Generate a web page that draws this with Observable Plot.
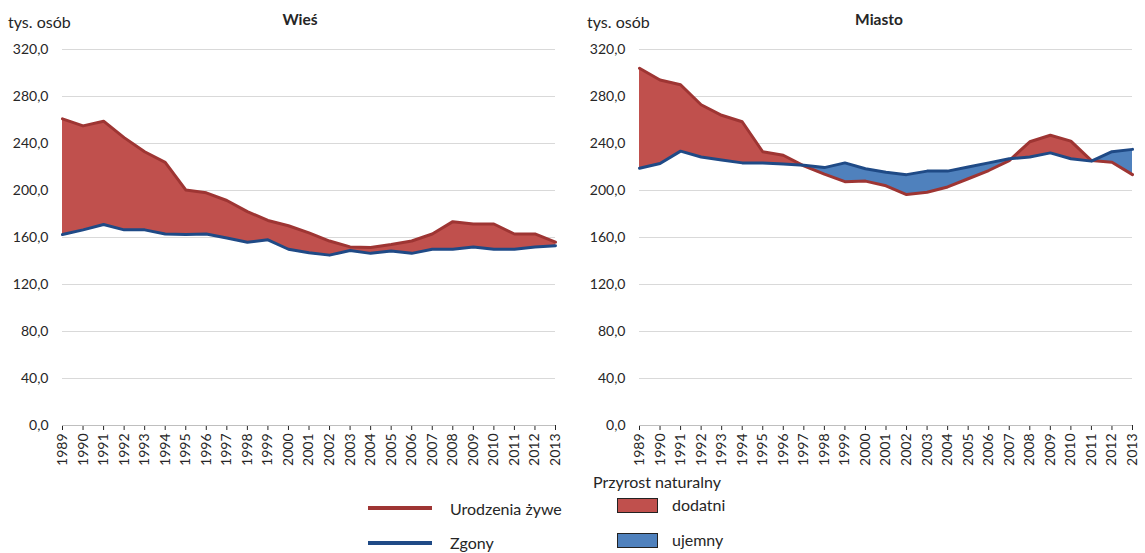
<!DOCTYPE html>
<html><head><meta charset="utf-8">
<script src="https://cdn.jsdelivr.net/npm/d3@7"></script>
<script src="https://cdn.jsdelivr.net/npm/@observablehq/plot@0.6"></script>
<style>
body{margin:0;background:#fff;font-family:Lato,"Open Sans",sans-serif;color:#262626;}
#wrap{position:relative;width:1145px;height:553px;overflow:hidden;background:#fff;}
.abs{position:absolute;white-space:nowrap;line-height:1;}
.panel{position:absolute;top:0;}
.ttl{font-weight:bold;font-size:15.5px;}
.unit{font-size:16px;}
.leg{font-size:16px;}
.swl{position:absolute;height:4px;width:64px;}
.swb{position:absolute;width:39px;height:13px;border:1px solid #222;}
</style></head><body><div id="wrap"></div>
<script>
// ---- data ----
const years = [1989,1990,1991,1992,1993,1994,1995,1996,1997,1998,1999,2000,2001,2002,2003,2004,2005,2006,2007,2008,2009,2010,2011,2012,2013];
const yTicks = [0,40,80,120,160,200,240,280,320];
const panelTitles = ["Wieś","Miasto"];
const unitLabel = "tys. osób";
const wiesUrodzenia = [261,255,259,245,233,224,200.5,198,191.5,182,174.5,170,164,157,152,151.5,154,157,163,173.5,171.5,171.5,163,163,156];
const wiesZgony =     [162.5,166.5,171,166.5,166.5,163,162.5,163,159.5,156,158,150,147,145,149,146.5,148.5,146.5,150,150,152,150,150,152,153];
const miastoUrodzenia = [304,294,290,273,264,258.5,233,230,221,214,207.5,208,204,196.5,198.5,203,210,217,225.5,241.5,247,242,225.5,224,213.5];
const miastoZgony =     [219,223,233.5,228.5,226,223.5,223.5,222.5,221.5,219.5,223.5,218.5,215.5,213.5,216.5,216.5,220,223.5,227,228.5,232,227,225,233,235];
const legendLines = ["Urodzenia żywe","Zgony"];
const legendTitle = "Przyrost naturalny";
const legendAreas = ["dodatni","ujemny"];

const C = {redFill:"#c0504d", blueFill:"#4f81bd", redLine:"#9e3533", blueLine:"#1f4a86", grid:"#d9d9d9", axis:"#bfbfbf"};
const fmt = v => v.toFixed(1).replace(".", ",");

// build series with crossing points for the difference fill
function diffSeries(b, d) {
  const out = [];
  for (let i = 0; i < years.length; i++) {
    out.push({x: years[i], b: b[i], d: d[i]});
    if (i < years.length - 1) {
      const a = b[i] - d[i], c = b[i+1] - d[i+1];
      if (a * c < 0) {
        const t = a / (a - c);
        const yv = b[i] + t * (b[i+1] - b[i]);
        out.push({x: years[i] + t * (years[i+1] - years[i]), b: yv, d: yv});
      }
    }
  }
  return out;
}

function panel(b, d, opts) {
  const s = diffSeries(b, d);
  const rows = years.map((y, i) => ({year: y, b: b[i], d: d[i]}));
  return Plot.plot({
    width: opts.width, height: 470,
    marginTop: 49, marginBottom: 45, marginLeft: opts.ml, marginRight: opts.mr,
    style: {fontSize: "14px", fontFamily: "Lato, 'Open Sans', sans-serif", color: "#262626", background: "transparent", overflow: "visible"},
    x: {type: "linear", domain: [years[0], years[years.length-1]], ticks: years, tickFormat: v => String(v), tickRotate: -90, tickSize: 5, tickPadding: 3, label: null},
    y: {domain: [0, 320], ticks: yTicks, tickFormat: fmt, tickSize: 0, tickPadding: 14, label: null},
    marks: [
      Plot.ruleY(yTicks.filter(v => v > 0), {stroke: C.grid, strokeWidth: 1}),
      Plot.ruleY([0], {stroke: C.axis, strokeWidth: 1}),
      Plot.areaY(s, {x: "x", y1: "d", y2: r => Math.max(r.b, r.d), fill: C.redFill}),
      Plot.areaY(s, {x: "x", y1: "b", y2: r => Math.max(r.b, r.d), fill: C.blueFill}),
      Plot.line(rows, {x: "year", y: "b", stroke: C.redLine, strokeWidth: 3}),
      Plot.line(rows, {x: "year", y: "d", stroke: C.blueLine, strokeWidth: 3})
    ]
  });
}

const wrap = document.getElementById("wrap");
function addPanel(node, left) {
  const div = document.createElement("div");
  div.className = "panel"; div.style.left = left + "px";
  div.appendChild(node); wrap.appendChild(div);
}
addPanel(panel(wiesUrodzenia, wiesZgony, {width: 572, ml: 62, mr: 17}), 0);
addPanel(panel(miastoUrodzenia, miastoZgony, {width: 573, ml: 67, mr: 13}), 572);

function txt(t, x, y, cls, anchorCenter) {
  const e = document.createElement("div");
  e.className = "abs " + cls; e.textContent = t;
  e.style.left = x + "px"; e.style.top = y + "px";
  if (anchorCenter) e.style.transform = "translateX(-50%)";
  wrap.appendChild(e);
  return e;
}
txt(unitLabel, 8, 14, "unit");
txt(unitLabel, 587, 14, "unit");
txt(panelTitles[0], 300, 12, "ttl", true);
txt(panelTitles[1], 879, 12, "ttl", true);

// legend
function sw(cls, x, y, w, h, color) {
  const e = document.createElement("div");
  e.className = cls; e.style.left = x + "px"; e.style.top = y + "px"; e.style.background = color;
  wrap.appendChild(e);
}
sw("swl", 368, 506, 64, 4, C.redLine);
sw("swl", 368, 541, 64, 4, C.blueLine);
txt(legendLines[0], 450, 501, "leg");
txt(legendLines[1], 450, 535, "leg");
txt(legendTitle, 593, 474, "leg");
sw("swb", 617, 498, 39, 13, C.redFill);
sw("swb", 617, 533, 39, 13, C.blueFill);
txt(legendAreas[0], 672, 497, "leg");
txt(legendAreas[1], 672, 532, "leg");
</script></body></html>
